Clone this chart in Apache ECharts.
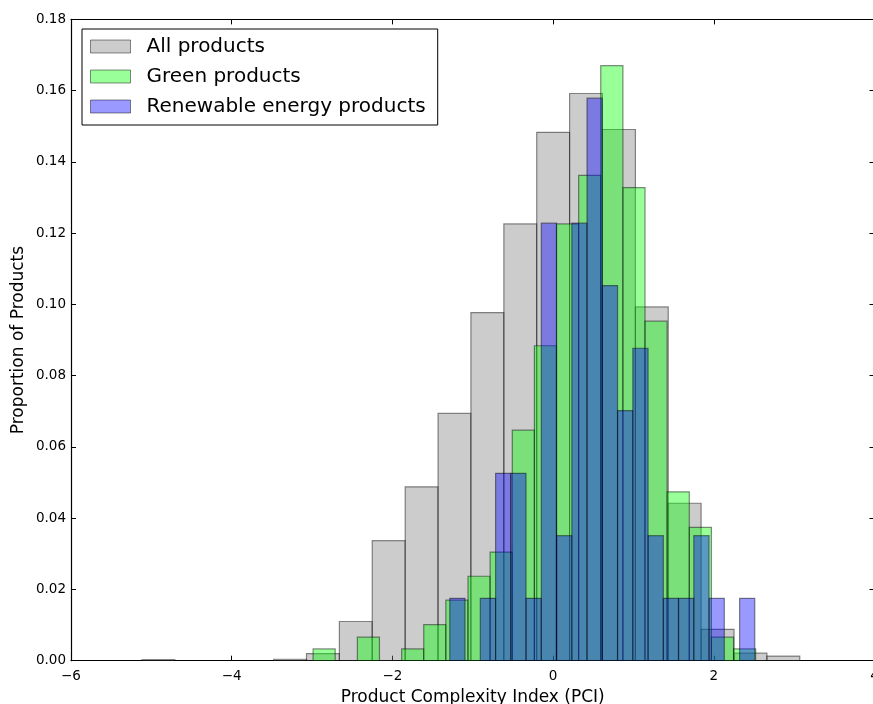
<!DOCTYPE html>
<html>
<head>
<meta charset="utf-8">
<script src="https://cdn.jsdelivr.net/npm/echarts@6/dist/echarts.min.js"></script>
<style>
html,body{margin:0;padding:0;background:#fff;}
#chart{width:873px;height:704px;}
</style>
</head>
<body>
<div id="chart"></div>
<script>
// ---- data (bin edges along PCI, proportion per bin) ----
const seriesNames = ['All products', 'Green products', 'Renewable energy products'];

const allEdges = [-5.116, -4.707, -4.297, -3.888, -3.479, -3.069, -2.660, -2.251, -1.841, -1.432,
  -1.023, -0.613, -0.204, 0.205, 0.614, 1.024, 1.433, 1.842, 2.252, 2.661, 3.070];
const allValues = [0.0003, 0, 0, 0, 0.0004, 0.0020, 0.0110, 0.0337, 0.0488, 0.0694,
  0.0977, 0.1226, 0.1483, 0.1592, 0.1491, 0.0993, 0.0442, 0.0088, 0.0021, 0.0013];

const greenEdges = [-2.987, -2.712, -2.436, -2.161, -1.885, -1.610, -1.335, -1.059, -0.784, -0.508,
  -0.233, 0.042, 0.318, 0.593, 0.869, 1.144, 1.419, 1.695, 1.970, 2.246, 2.521];
const greenValues = [0.0033, 0, 0.0066, 0, 0.0033, 0.0101, 0.0170, 0.0237, 0.0305, 0.0647,
  0.0884, 0.1226, 0.1362, 0.1670, 0.1328, 0.0953, 0.0474, 0.0374, 0.0066, 0.0033];

const renewEdges = [-1.286, -1.096, -0.906, -0.716, -0.527, -0.337, -0.147, 0.043, 0.233, 0.422,
  0.612, 0.802, 0.992, 1.182, 1.372, 1.561, 1.751, 1.941, 2.131, 2.321, 2.510];
const renewValues = [0.0175, 0, 0.0175, 0.0526, 0.0526, 0.0175, 0.1228, 0.0351, 0.1228, 0.1579,
  0.1053, 0.0702, 0.0877, 0.0351, 0.0175, 0.0175, 0.0351, 0.0175, 0, 0.0175];

// ---- build ----
const FONT = 'DejaVu Sans';
const fills = ['rgba(128,128,128,0.4)', 'rgba(0,255,0,0.4)', 'rgba(0,0,255,0.4)'];
const EDGE = 'rgba(0,0,0,0.45)';

function toBins(edges, values) {
  return values.map((v, i) => [edges[i], edges[i + 1], v]);
}

function renderBar(fill) {
  return function (params, api) {
    const x0 = api.value(0), x1 = api.value(1), y = api.value(2);
    if (!y) return null;
    const p0 = api.coord([x0, y]);
    const p1 = api.coord([x1, 0]);
    return {
      type: 'rect',
      shape: { x: p0[0], y: p0[1], width: p1[0] - p0[0], height: p1[1] - p0[1] },
      style: { fill: fill, stroke: EDGE, lineWidth: 1.2 }
    };
  };
}

const binSets = [toBins(allEdges, allValues), toBins(greenEdges, greenValues), toBins(renewEdges, renewValues)];

const fmtX = v => (v < 0 ? '\u2212' + (-v) : String(v));
const fmtY = v => v.toFixed(2);

const axisLine = { show: true, onZero: false, lineStyle: { color: '#000', width: 1.2 } };
const tickIn = { show: true, inside: true, length: 5, lineStyle: { color: '#000', width: 1 } };

const chart = echarts.init(document.getElementById('chart'), null, { renderer: 'canvas' });
chart.setOption({
  animation: false,
  backgroundColor: '#fff',
  textStyle: { fontFamily: FONT },
  grid: { left: 71, top: 19.4, width: 803.5, height: 641.3, containLabel: false, outerBoundsMode: 'none' },
  legend: {
    orient: 'vertical',
    left: 82,
    top: 29,
    padding: [7.5, 12, 8.5, 8],
    itemWidth: 40,
    itemHeight: 13,
    itemGap: 10,
    borderColor: '#000',
    borderWidth: 1,
    borderRadius: 0,
    backgroundColor: '#fff',
    textStyle: { fontFamily: FONT, fontSize: 20, color: '#000', lineHeight: 20, padding: [0, 0, 0, 11] },
    data: seriesNames.map((n, i) => ({
      name: n,
      icon: 'rect',
      itemStyle: { color: fills[i], borderColor: EDGE, borderWidth: 1 }
    }))
  },
  xAxis: [{
    type: 'value', min: -6, max: 4, interval: 2, position: 'bottom',
    name: 'Product Complexity Index (PCI)', nameLocation: 'middle', nameGap: 27,
    nameTextStyle: { fontFamily: FONT, fontSize: 17, color: '#000' },
    axisLine: axisLine, axisTick: tickIn,
    axisLabel: { fontFamily: FONT, fontSize: 13.5, color: '#000', margin: 9, formatter: fmtX },
    splitLine: { show: false }
  }, {
    type: 'value', min: -6, max: 4, interval: 2, position: 'top',
    axisLine: axisLine, axisTick: tickIn, axisLabel: { show: false }, splitLine: { show: false }
  }],
  yAxis: [{
    type: 'value', min: 0, max: 0.18, interval: 0.02, position: 'left',
    name: 'Proportion of Products', nameLocation: 'middle', nameGap: 44, nameMoveOverlap: false,
    nameTextStyle: { fontFamily: FONT, fontSize: 17, color: '#000' },
    axisLine: axisLine, axisTick: tickIn,
    axisLabel: { fontFamily: FONT, fontSize: 13.5, color: '#000', margin: 5, formatter: fmtY },
    splitLine: { show: false }
  }, {
    type: 'value', min: 0, max: 0.18, interval: 0.02, position: 'right',
    axisLine: axisLine, axisTick: tickIn, axisLabel: { show: false }, splitLine: { show: false }
  }],
  series: seriesNames.map((n, i) => ({
    name: n,
    type: 'custom',
    xAxisIndex: 0,
    yAxisIndex: 0,
    clip: true,
    itemStyle: { color: fills[i] },
    renderItem: renderBar(fills[i]),
    encode: { x: [0, 1], y: 2 },
    data: binSets[i],
    z: 2 + i
  }))
});
</script>
</body>
</html>
